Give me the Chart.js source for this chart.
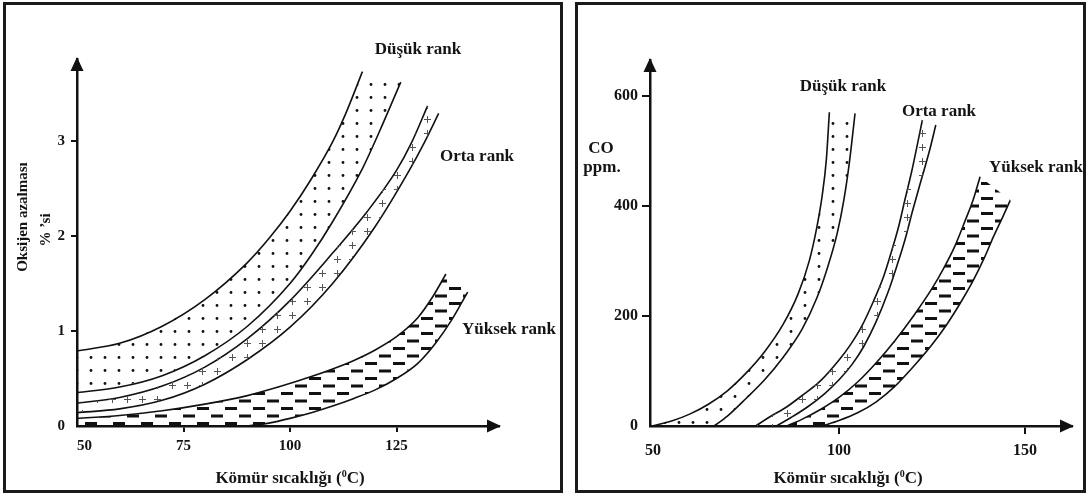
<!DOCTYPE html>
<html lang="tr">
<head>
<meta charset="utf-8">
<title>Kömür sıcaklığı - oksijen azalması ve CO</title>
<script src="https://cdn.jsdelivr.net/npm/chart.js@4.4.0/dist/chart.umd.min.js"></script>
<style>
    html, body { margin: 0; padding: 0; background: #fff; }
    body {
        width: 1088px; height: 494px; position: relative; overflow: hidden;
        font-family: 'Liberation Serif', 'Times New Roman', serif;
        font-weight: bold; color: #141414;
    }
    .panel { position: absolute; border: 3px solid #1a1a1a; box-sizing: border-box; }
    canvas { position: absolute; left: 0; top: 0; }
    .lbl {
        position: absolute; white-space: nowrap; line-height: 1;
        font-size: 17px; transform: translate(-50%, -50%);
    }
    .lbl.start { transform: translate(0, -50%); }
    .lbl.rot { font-size: 15px; transform: translate(-50%, -50%) rotate(-90deg); }
    .sup { font-size: 10px; position: relative; top: -6px; }
</style>
</head>
<body>
<div class="panel" style="left:3px;top:2px;width:560px;height:491px"></div>
<div class="panel" style="left:575px;top:2px;width:511px;height:491px"></div>

<canvas id="oxygenChart" width="1088" height="494"></canvas>
<canvas id="coChart" width="1088" height="494"></canvas>

<!-- sol grafik yazıları -->
<div class="lbl" style="left:418px;top:48px">Düşük rank</div>
<div class="lbl" style="left:477px;top:155px">Orta rank</div>
<div class="lbl start" style="left:462px;top:328px">Yüksek rank</div>
<div class="lbl rot" style="left:22px;top:217px">Oksijen azalması</div>
<div class="lbl rot" style="left:45px;top:230px">% ’si</div>
<div class="lbl" style="left:290px;top:477px">Kömür sıcaklığı (<span class="sup">0</span>C)</div>

<!-- sağ grafik yazıları -->
<div class="lbl" style="left:843px;top:85px">Düşük rank</div>
<div class="lbl" style="left:939px;top:110px">Orta rank</div>
<div class="lbl start" style="left:989px;top:166px">Yüksek rank</div>
<div class="lbl" style="left:601px;top:147px">CO</div>
<div class="lbl" style="left:602px;top:166px">ppm.</div>
<div class="lbl" style="left:848px;top:477px">Kömür sıcaklığı (<span class="sup">0</span>C)</div>

<script>
// ============================================
// DATA - left chart (oksijen azalması %)
// ============================================

const oxygenXTicks = [50, 75, 100, 125];
const oxygenYTicks = [0, 1, 2, 3];

const oxygenLowUpper = [[50, 0.79], [60, 0.87], [70, 1.05], [80, 1.33], [90, 1.72], [95, 1.97], [100, 2.26], [105, 2.60], [110, 2.99], [113, 3.28], [117, 3.73]];
const oxygenLowLower = [[50, 0.35], [60, 0.41], [70, 0.53], [80, 0.74], [90, 1.05], [100, 1.50], [105, 1.80], [110, 2.15], [117, 2.71], [121, 3.10], [126, 3.62]];
const oxygenMidUpper = [[50, 0.24], [60, 0.30], [70, 0.42], [80, 0.62], [90, 0.92], [100, 1.32], [110, 1.82], [118, 2.25], [125, 2.69], [128.5, 2.98], [132.3, 3.37]];
const oxygenMidLower = [[50, 0.14], [60, 0.18], [70, 0.27], [80, 0.44], [90, 0.70], [100, 1.04], [110, 1.50], [120, 2.10], [128, 2.69], [131.5, 2.98], [134.9, 3.29]];
const oxygenHighUpper = [[50, 0.08], [60, 0.11], [70, 0.16], [80, 0.23], [90, 0.32], [98, 0.42], [105, 0.52], [110, 0.60], [115, 0.69], [120, 0.80], [125, 0.94], [130, 1.14], [133.5, 1.36], [136.6, 1.60]];
const oxygenHighLower = [[90, 0], [95, 0.03], [100, 0.08], [105, 0.14], [110, 0.21], [115, 0.29], [120, 0.38], [125, 0.50], [130, 0.66], [134.3, 0.88], [138, 1.12], [141.7, 1.41]];

// ============================================
// DATA - right chart (CO ppm)
// ============================================

const coXTicks = [50, 100, 150];
const coYTicks = [0, 200, 400, 600];

const coLowUpper = [[49.6, 0], [55, 9], [60, 22], [65, 40], [70, 64], [75, 96], [80, 135], [85, 185], [89, 240], [92, 300], [94, 360], [95.5, 420], [96.6, 485], [97.4, 570]];
const coLowLower = [[66.4, 0], [70, 18], [75, 50], [80, 84], [85, 125], [90, 175], [94, 232], [97, 290], [99.5, 350], [101.3, 411], [102.8, 480], [104.3, 568]];
const coMidUpper = [[77.6, 0], [81, 15], [86, 35], [90, 55], [95, 82], [100, 120], [103, 147], [106, 180], [109.4, 229], [112, 272], [114, 315], [116, 362], [117.7, 411], [119.5, 462], [121, 510], [122.4, 556]];
const coMidLower = [[83.2, 0], [87, 15], [91.6, 35], [96, 58], [100, 84], [103.5, 112], [106.6, 144], [110, 190], [113.1, 242], [115.5, 290], [117.7, 338], [119.8, 392], [122, 445], [124.3, 500], [126, 547]];
const coHighUpper = [[86, 0], [90, 12], [95, 30], [100, 52], [105, 80], [110, 115], [115, 155], [120, 200], [125, 250], [128, 285], [131, 325], [134, 375], [136, 410], [137.9, 453]];
const coHighLower = [[95.5, 0], [100, 10], [105, 24], [110, 44], [115, 72], [120, 108], [125, 148], [129, 185], [133, 228], [136.1, 265], [139, 305], [141.5, 344], [144, 380], [146, 410]];

// ============================================
// HATCH PATTERNS
// ============================================

function makePattern(kind) {
    const tile = document.createElement('canvas');
    const g = tile.getContext('2d');
    if (kind === 'dots') {
        tile.width = 14; tile.height = 13;
        g.fillStyle = '#111';
        g.beginPath();
        g.arc(7, 6.5, 1.4, 0, Math.PI * 2);
        g.fill();
    } else if (kind === 'plus') {
        tile.width = 15; tile.height = 14;
        g.strokeStyle = '#555';
        g.lineWidth = 1;
        g.beginPath();
        g.moveTo(4, 7.5); g.lineTo(11, 7.5);
        g.moveTo(7.5, 4); g.lineTo(7.5, 11);
        g.stroke();
    } else {
        tile.width = 28; tile.height = 15;
        g.fillStyle = '#111';
        g.fillRect(1, 2, 12, 3);
        g.fillRect(15, 9.5, 12, 3);
    }
    return g.createPattern(tile, 'repeat');
}

// ============================================
// DATASETS
// ============================================

function toPoints(pairs) {
    return pairs.map(([x, y]) => ({ x, y }));
}

function curve(pairs) {
    return {
        data: toPoints(pairs),
        showLine: true,
        fill: false,
        borderColor: '#111',
        borderWidth: 1.6,
        pointRadius: 0,
        cubicInterpolationMode: 'monotone'
    };
}

// band = upper curve, back along lower curve, closed at the start corner
function band(upper, lower, pattern) {
    const outline = upper.concat(lower.slice().reverse());
    outline.push([upper[0][0], lower[0][1]]);
    return [
        {
            data: toPoints(outline),
            showLine: true,
            fill: 'shape',
            backgroundColor: pattern,
            borderColor: 'rgba(0,0,0,0)',
            borderWidth: 0,
            pointRadius: 0,
            tension: 0
        },
        curve(upper),
        curve(lower)
    ];
}

// ============================================
// AXES
// ============================================

function axis(min, max, ticks, hiddenTick, opts) {
    return {
        type: 'linear',
        min: min,
        max: max,
        afterBuildTicks: scale => { scale.ticks = ticks.map(v => ({ value: v })); },
        afterFit: scale => {
            if (opts.horizontal) scale.height = opts.fit;
            else scale.width = opts.fit;
        },
        border: { display: true, color: '#111', width: 2.5 },
        grid: {
            drawOnChartArea: false,
            drawTicks: true,
            tickLength: opts.tickLength,
            lineWidth: 2,
            color: c => (c.tick && c.tick.value === hiddenTick) ? 'rgba(0,0,0,0)' : '#111'
        },
        ticks: {
            color: '#141414',
            padding: opts.padding,
            maxRotation: 0,
            autoSkip: false,
            font: { family: 'Liberation Serif', size: opts.fontSize, weight: 'bold' },
            callback: opts.label || (v => String(v))
        }
    };
}

const arrowPlugin = {
    id: 'axisArrows',
    afterDraw(chart) {
        const { ctx, chartArea: a } = chart;
        ctx.save();
        ctx.fillStyle = '#111';
        ctx.beginPath();
        ctx.moveTo(a.right + 2, a.bottom);
        ctx.lineTo(a.right - 12, a.bottom - 6.5);
        ctx.lineTo(a.right - 12, a.bottom + 6.5);
        ctx.closePath();
        ctx.fill();
        ctx.beginPath();
        ctx.moveTo(a.left, a.top - 2);
        ctx.lineTo(a.left - 6.5, a.top + 12);
        ctx.lineTo(a.left + 6.5, a.top + 12);
        ctx.closePath();
        ctx.fill();
        ctx.restore();
    }
};

function buildChart(canvasId, datasets, padding, xScale, yScale) {
    return new Chart(document.getElementById(canvasId), {
        type: 'scatter',
        data: { datasets: datasets },
        options: {
            responsive: false,
            animation: false,
            devicePixelRatio: 1,
            layout: { padding: padding },
            plugins: { legend: { display: false }, tooltip: { enabled: false } },
            scales: { x: xScale, y: yScale }
        },
        plugins: [arrowPlugin]
    });
}

// ============================================
// INIT
// ============================================

const dots = makePattern('dots');
const plus = makePattern('plus');
const dashes = makePattern('dashes');

buildChart('oxygenChart',
    [].concat(
        band(oxygenLowUpper, oxygenLowLower, dots),
        band(oxygenMidUpper, oxygenMidLower, plus),
        band(oxygenHighUpper, oxygenHighLower, dashes)
    ),
    { left: 27, right: 589, top: 59, bottom: 28 },
    axis(50, 149.06, oxygenXTicks, 50, {
        horizontal: true, fit: 40, tickLength: 6, padding: 5, fontSize: 15,
        label: v => (v === 50 ? '    50' : String(v))
    }),
    axis(0, 3.863, oxygenYTicks, 0, { horizontal: false, fit: 50, tickLength: 6, padding: 6, fontSize: 15 })
);

buildChart('coChart',
    [].concat(
        band(coLowUpper, coLowLower, dots),
        band(coMidUpper, coMidLower, plus),
        band(coHighUpper, coHighLower, dashes)
    ),
    { left: 600, right: 16, top: 60, bottom: 28 },
    axis(49.2, 162.6, coXTicks, 50, { horizontal: true, fit: 40, tickLength: 8, padding: 7, fontSize: 16 }),
    axis(0, 665, coYTicks, 0, { horizontal: false, fit: 50, tickLength: 8, padding: 4, fontSize: 16 })
);
</script>
</body>
</html>
